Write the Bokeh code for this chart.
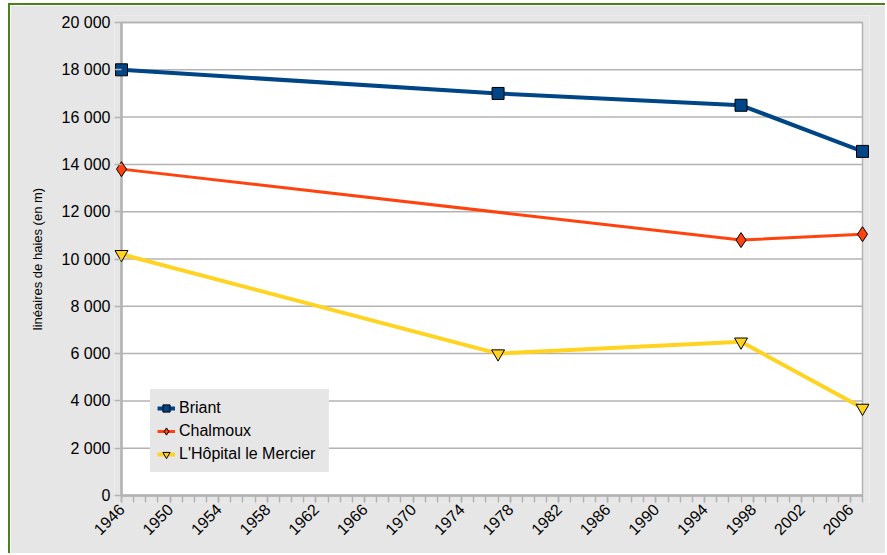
from bokeh.plotting import figure
from bokeh.models import FixedTicker, Range1d, Legend, LegendItem
from bokeh.embed import file_html
from bokeh.resources import INLINE
from math import pi

# Hedgerow length per commune (metres) by survey year
years = [1946, 1977, 1997, 2007]
briant = [18000, 17000, 16500, 14550]
chalmoux_years = [1946, 1997, 2007]
chalmoux = [13800, 10800, 11050]
hopital = [10200, 6000, 6500, 3700]

y_ticks = list(range(0, 20001, 2000))
y_labels = {v: f"{v:,}".replace(",", " ") for v in y_ticks}
x_ticks = list(range(1946, 2007, 4))
x_minor = list(range(1946, 2008))

FONT = "Liberation Sans"
GRID = "#b3b3b3"
PANEL = "#e6e6e6"

x0, x1 = years[0], years[-1]
y0, y1 = y_ticks[0], y_ticks[-1]
# 7px of slack around the data area so edge markers are drawn whole
PAD = 7
x_pad = (x1 - x0) * PAD / 741
y_pad = (y1 - y0) * PAD / 473

p = figure(width=877, height=550, output_backend="svg", toolbar_location=None,
           x_range=Range1d(x0 - x_pad, x1 + x_pad),
           y_range=Range1d(y0 - y_pad, y1 + y_pad),
           min_border_left=104, min_border_right=18, min_border_top=10,
           min_border_bottom=53, border_fill_color=PANEL,
           background_fill_color=PANEL, outline_line_color=None)
p.styles = {"border-left": "2px solid #4e7f1e", "border-top": "2px solid #4e7f1e",
            "margin-left": "8px", "margin-top": "3px"}

p.xgrid.grid_line_color = None
p.ygrid.grid_line_color = None

# white data area with its frame and horizontal grid lines
p.quad(left=x0, right=x1, bottom=y0, top=y1, fill_color="white",
       line_color=GRID, line_width=1.5)
p.segment(x0=[x0] * len(y_ticks), x1=[x1] * len(y_ticks), y0=y_ticks, y1=y_ticks,
          line_color=GRID, line_width=1.5)
# heavier axis lines along the left and bottom of the data area
p.segment(x0=[x0, x0], x1=[x0, x1], y0=[y0, y0], y1=[y1, y0],
          line_color=GRID, line_width=2.5)

p.yaxis.ticker = FixedTicker(ticks=y_ticks)
p.yaxis.major_label_overrides = y_labels
p.yaxis.axis_label = "linéaires de haies (en m)"
p.yaxis.axis_label_text_font = FONT
p.yaxis.axis_label_text_font_size = "13px"
p.yaxis.axis_label_text_font_style = "normal"
p.yaxis.axis_label_text_color = "black"
p.yaxis.axis_label_standoff = 14
p.xaxis.ticker = FixedTicker(ticks=x_ticks, minor_ticks=x_minor)
p.xaxis.major_label_orientation = pi / 4

for ax in (p.xaxis, p.yaxis):
    ax.axis_line_color = None
    ax.major_tick_line_color = GRID
    ax.minor_tick_line_color = GRID
    ax.major_tick_line_width = 1.5
    ax.minor_tick_line_width = 1.5
    ax.major_tick_out = 0
    ax.minor_tick_out = 0
    ax.major_tick_in = PAD
    ax.major_label_text_font = FONT
    ax.major_label_text_font_size = "16px"
    ax.major_label_text_color = "black"
p.yaxis.minor_tick_in = 0
p.yaxis.major_label_standoff = 4
p.xaxis.minor_tick_in = PAD
p.xaxis.major_label_standoff = 4

series = [
    ("Briant", years, briant, "#004586", "square", 12, 4),
    ("Chalmoux", chalmoux_years, chalmoux, "#ff420e", "diamond", 15, 3),
    ("L'Hôpital le Mercier", years, hopital, "#ffd320", "inverted_triangle", 13, 4),
]
items = []
for name, xs, ys, color, marker, size, lw in series:
    ln = p.line(xs, ys, line_color=color, line_width=lw)
    sc = p.scatter(xs, ys, marker=marker, size=size, fill_color=color,
                   line_color="black", line_width=1)
    items.append(LegendItem(label=name, renderers=[ln, sc]))

legend = Legend(items=items, location=(36, 30), background_fill_color=PANEL,
                background_fill_alpha=1, border_line_color=PANEL,
                label_text_font=FONT, label_text_font_size="16px",
                label_text_color="black",
                glyph_width=18, glyph_height=22, label_height=23,
                label_width=143, label_standoff=4, spacing=0, padding=6,
                margin=0)
p.add_layout(legend, "center")

open("out.html", "w").write(file_html(p, INLINE))
